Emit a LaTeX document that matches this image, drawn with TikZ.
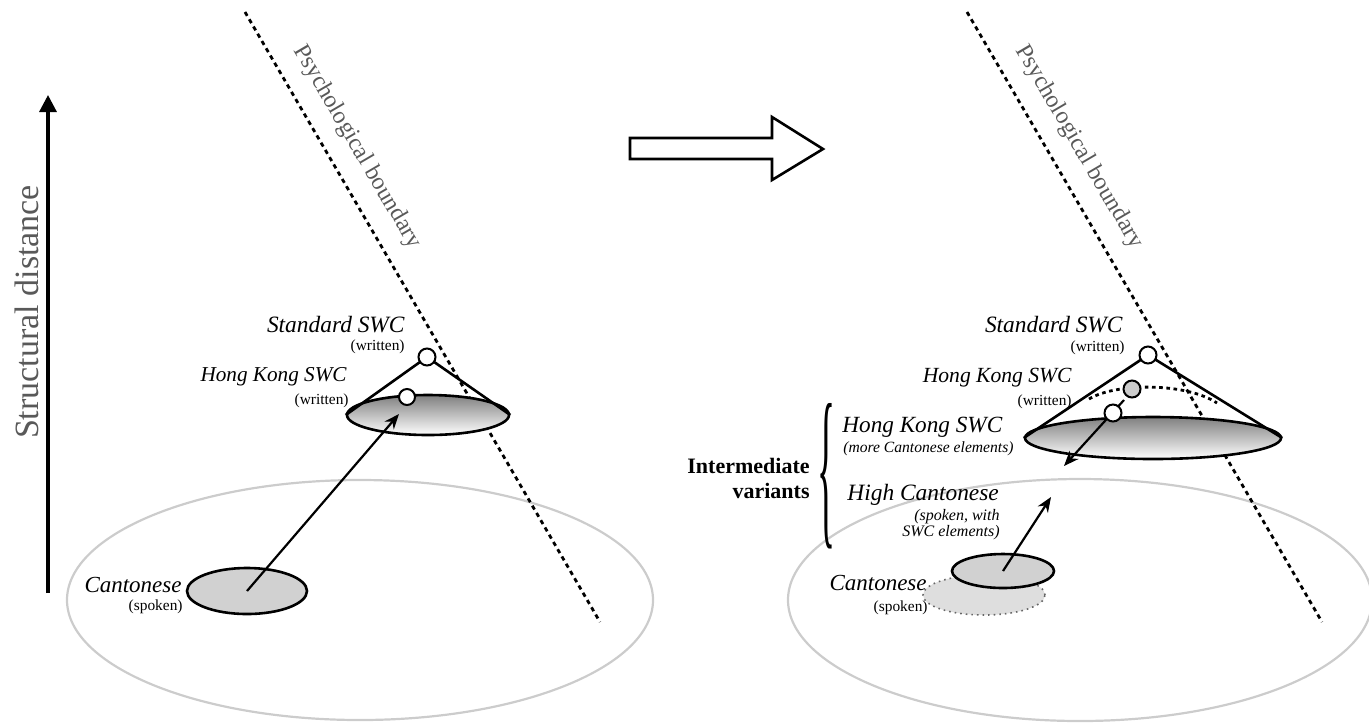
\documentclass[tikz,border=0pt]{standalone}
\usepackage{fontspec}
\setmainfont{Liberation Serif}
\usetikzlibrary{shapes.geometric,arrows.meta}
\begin{document}
\begin{tikzpicture}[x=0.5pt,y=-0.5pt,
  lbl/.style={font=\fontsize{11.7}{13}\selectfont\itshape, inner sep=0, anchor=east},
  sub/.style={font=\fontsize{7.7}{9}\selectfont, inner sep=0, anchor=east},
  boundary/.style={line width=1.4pt, dash pattern=on 2.2pt off 2pt},
  field/.style={draw=black!20, line width=1.1pt},
  dotnode/.style={circle, draw, line width=1pt, fill=white, minimum size=8.5pt, inner sep=0},
  conebase/.style={ellipse, draw, line width=1.3pt, inner sep=0, top color=black!50, bottom color=white},
  cantbox/.style={ellipse, draw, line width=1.3pt, inner sep=0, fill=black!18},
  arr/.style={-{Stealth[length=7.5pt,width=6pt]}, line width=1.1pt},
  grey/.style={text=black!65, inner sep=0},
]
\useasboundingbox (0,0) rectangle (1369,725);

% ---------- background fields ----------
\draw[field] (360,600) ellipse [x radius=146.5pt, y radius=60pt];
\draw[field] (1080,600) ellipse [x radius=146pt, y radius=60.5pt];

\coordinate (lb1) at (245,12);
\coordinate (lb2) at (600,622);
\draw[boundary] (lb1) -- (lb2);
\coordinate (rb1) at (967,12);
\coordinate (rb2) at (1322,622);
\draw[boundary] (rb1) -- (rb2);

\node[grey, rotate=-59.6, font=\fontsize{12}{13}\selectfont] (lpb) at (357,147) {Psychological boundary};
\node[grey, rotate=-59.6, font=\fontsize{12}{13}\selectfont] (rpb) at (1079,147) {Psychological boundary};

% axis
\coordinate (ax1) at (48,593);
\coordinate (ax2) at (48,95);
\draw[line width=1.6pt, -{Triangle[length=8.5pt,width=8.5pt]}] (ax1) -- (ax2);
\node[grey, rotate=90, font=\fontsize{17}{20}\selectfont] (axl) at (27,312) {Structural distance};

% ---------- left panel ----------
\node[cantbox, minimum width=60pt, minimum height=23pt] (lcant) at (247,591) {};
\node[conebase, minimum width=81pt, minimum height=20pt] (lcone) at (428,415) {};
\coordinate (lapex) at (427,357);
\draw[line width=1.3pt] (lcone.west) -- (lapex) -- (lcone.east);
\node[dotnode] (lstdc) at (lapex) {};
\node[dotnode, minimum size=8pt] (lhkc) at (407,397) {};
\coordinate (ltip) at (399,414);
\draw[arr] (lcant.center) -- (ltip);

\node[lbl] (lstd) at (405,325) {Standard SWC};
\node[sub] (lstdw) at (405,347) {(written)};
\node[lbl, font=\fontsize{10.6}{12}\selectfont\itshape] (lhk) at (347,377) {Hong Kong SWC};
\node[sub] (lhkw) at (349,401) {(written)};
\node[lbl, font=\fontsize{11.5}{13}\selectfont\itshape] (lcantl) at (182,585) {Cantonese};
\node[sub] (lcants) at (183,607) {(spoken)};

% ---------- block arrow ----------
\draw[line width=1.3pt, fill=white] (630,138) -- (772,138) -- (772,117) -- (823,149) -- (772,180) -- (772,159) -- (630,159) -- cycle;

% ---------- right panel ----------
\node[ellipse, draw=black!60, dotted, line width=0.8pt, fill=black!13, inner sep=0, minimum width=61pt, minimum height=20pt] (rold) at (984,595) {};
\node[cantbox, minimum width=51pt, minimum height=17pt] (rhigh) at (1003,571) {};
\coordinate (rup) at (1051,497);
\draw[arr] (rhigh.center) -- (rup);

\node[conebase, minimum width=128pt, minimum height=21pt] (rcone) at (1153,438) {};
\coordinate (rapex) at (1148,355);
\draw[line width=1.3pt] (rcone.west) -- (rapex) -- (rcone.east);
\coordinate (arcl) at (1089,399);
\coordinate (arcr) at (1217,403);
\draw[line width=1.4pt, dash pattern=on 1.8pt off 1.8pt] (arcl) .. controls (1115,383) and (1185,382) .. (arcr);
\node[dotnode] (rstdc) at (rapex) {};
\node[dotnode, fill=black!20] (rhkc) at (1132,389) {};
\coordinate (rdstart) at (1124,400);
\coordinate (rdown) at (1064,466);
\draw[arr] (rdstart) -- (rdown);
\node[dotnode] (rmorec) at (1113,413) {};

\node[lbl] (rstd) at (1123,325) {Standard SWC};
\node[sub] (rstdw) at (1125,348) {(written)};
\node[lbl, font=\fontsize{10.8}{12}\selectfont\itshape] (rhk) at (1072,378) {Hong Kong SWC};
\node[sub] (rhkw) at (1072,402) {(written)};

\node[lbl, anchor=west, font=\fontsize{11.6}{13}\selectfont\itshape] (ihk) at (842,427) {Hong Kong SWC};
\node[inner sep=0, anchor=west, font=\fontsize{7.8}{9}\selectfont\itshape] (ihks) at (843,449) {(more Cantonese elements)};
\node[lbl, anchor=west] (ihc) at (847,495) {High Cantonese};
\node[inner sep=0, anchor=east, align=right, font=\fontsize{8}{8}\selectfont\itshape] (ihcs) at (1000,525) {(spoken, with\\SWC elements)};
\node[inner sep=0, anchor=east, align=right, font=\fontsize{11}{12.5}\selectfont\bfseries] (iv) at (810,478) {Intermediate\\variants};
\node[inner sep=0] (brace) at (826,476) {\resizebox{9pt}{61pt}{\fontsize{20}{20}\selectfont\{}};

\node[lbl, font=\fontsize{11.5}{13}\selectfont\itshape] (rcantl) at (927,583) {Cantonese};
\node[sub] (rcants) at (928,608) {(spoken)};
\end{tikzpicture}
\end{document}
